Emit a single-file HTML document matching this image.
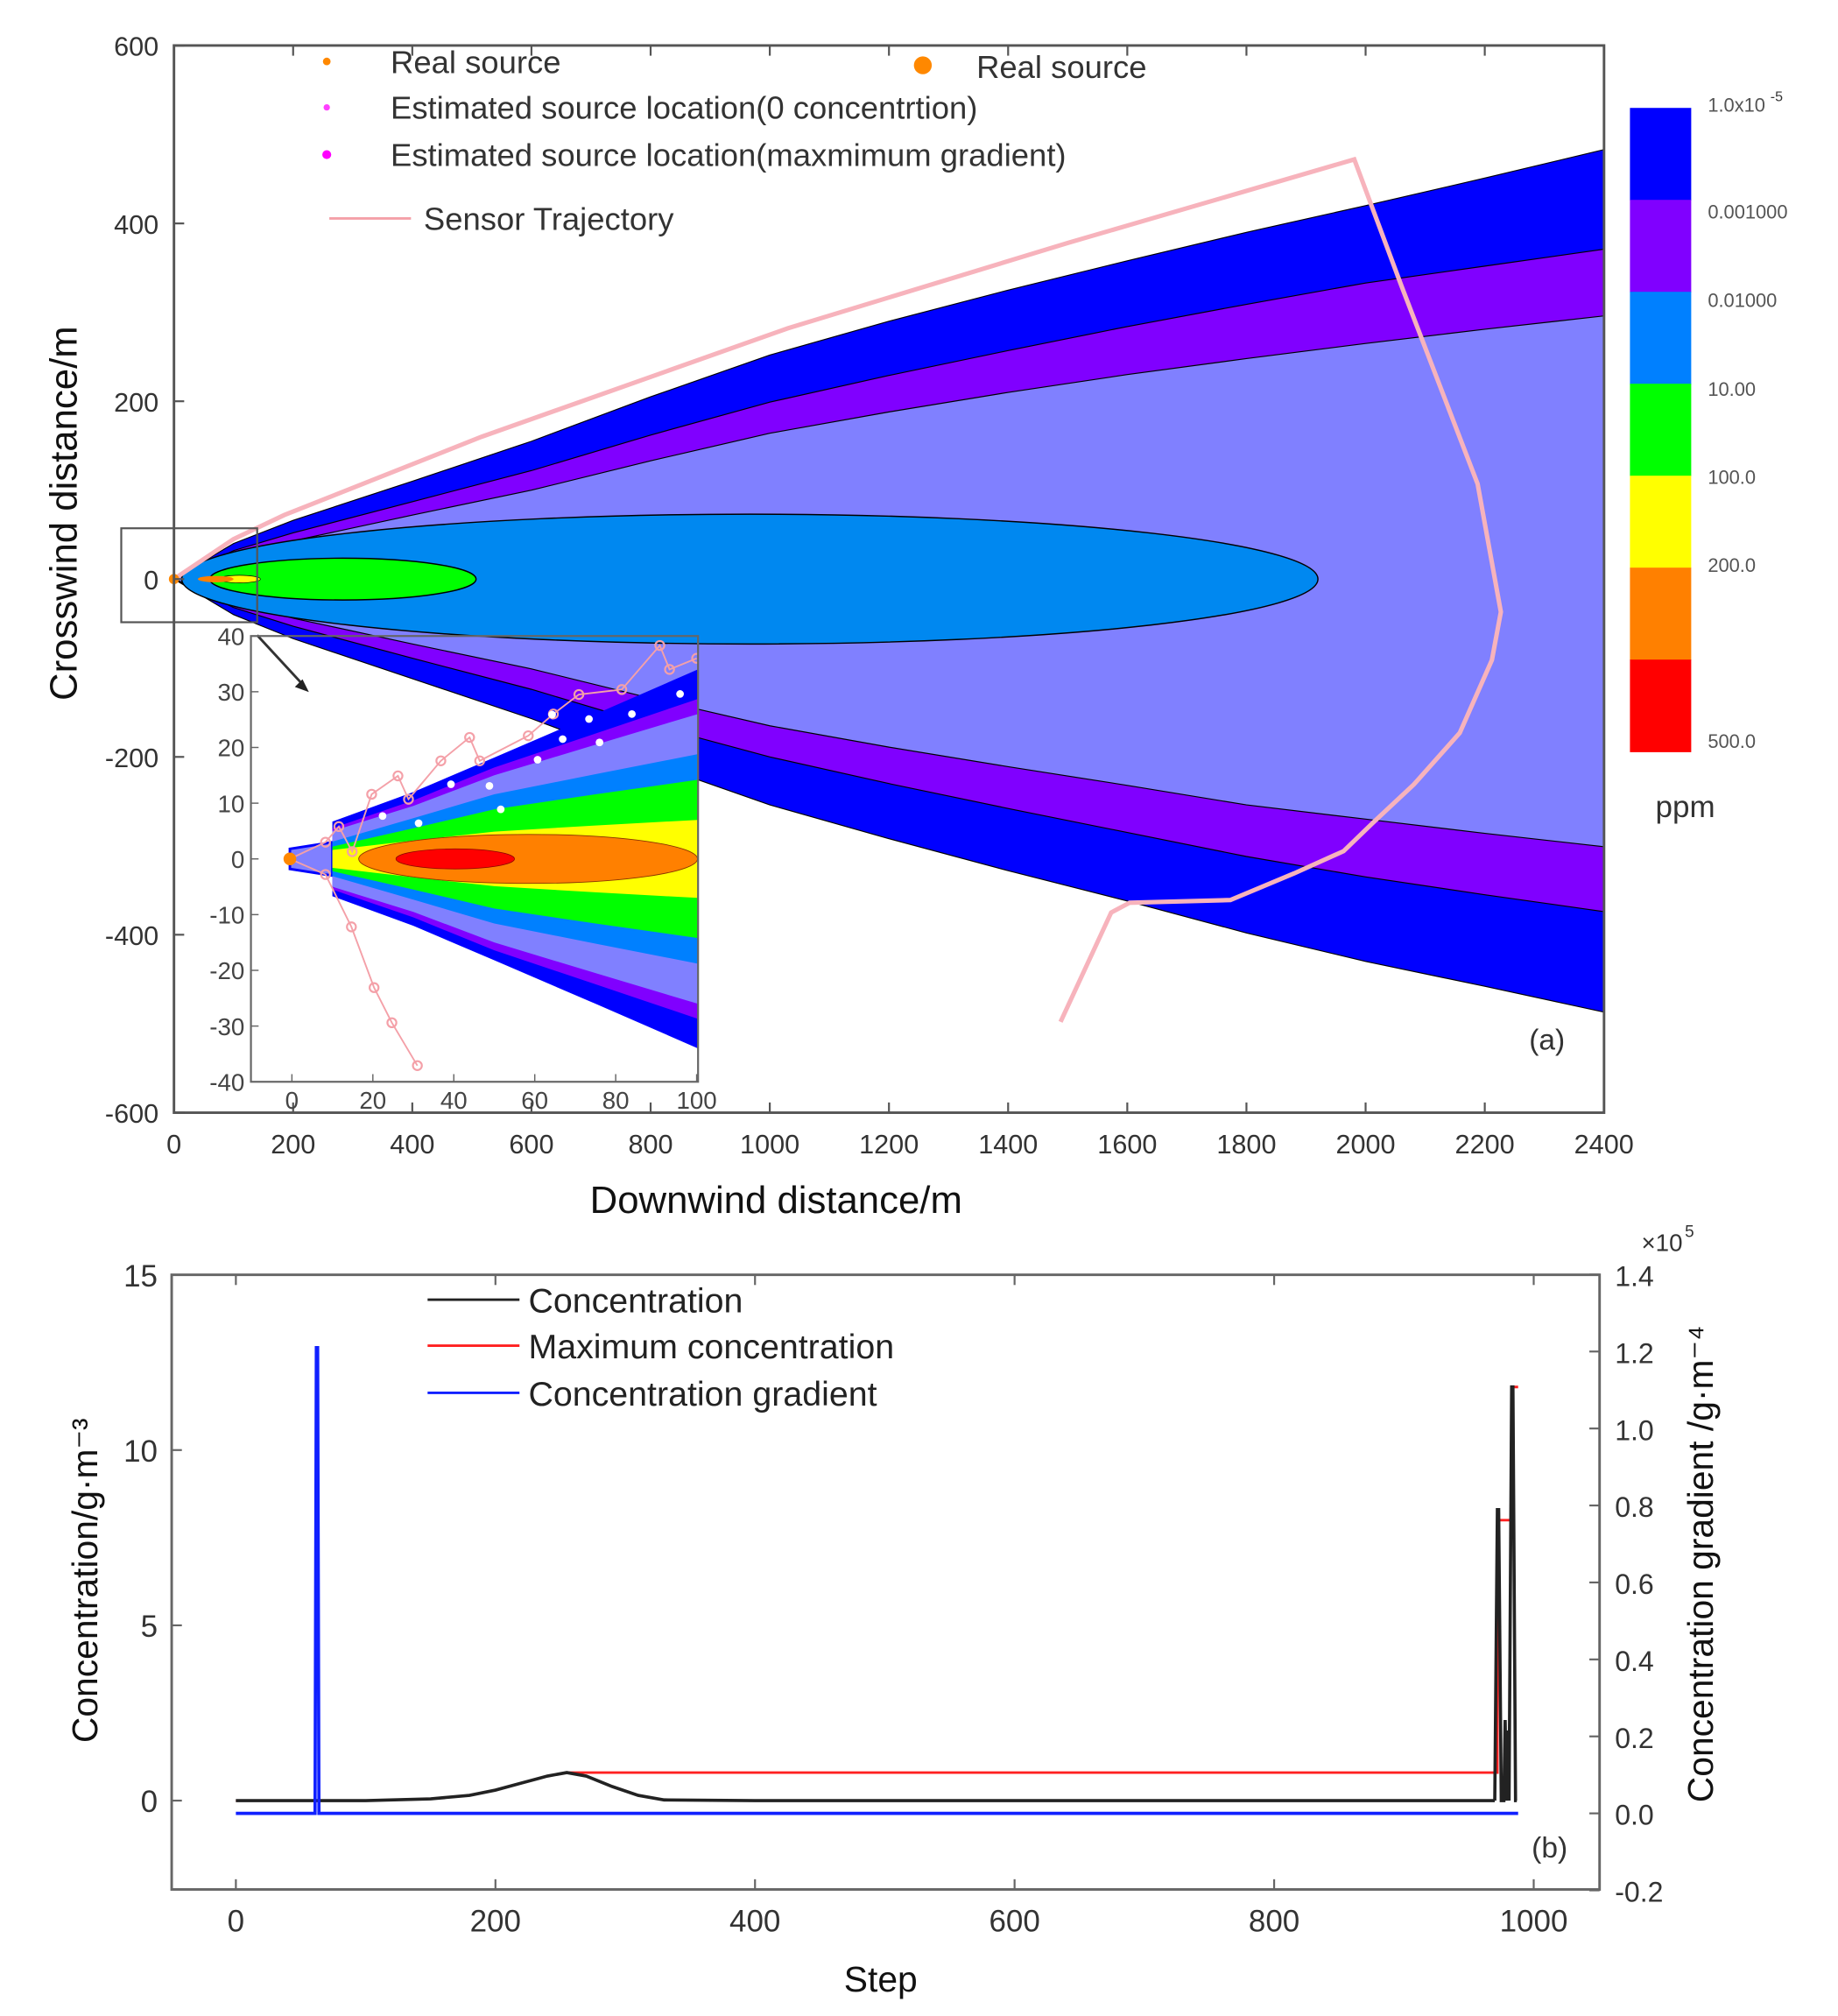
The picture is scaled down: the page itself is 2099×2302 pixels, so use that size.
<!DOCTYPE html>
<html><head><meta charset="utf-8"><style>
html,body{margin:0;padding:0;background:#fff}
svg{display:block;font-family:"Liberation Sans",sans-serif}
</style></head><body>
<svg id="fig" width="2099" height="2302" viewBox="0 0 1440 1579" xmlns="http://www.w3.org/2000/svg">
<rect width="1440" height="1579" fill="#fff"/>
<g id="topChart"></g>
<g id="botChart"></g>
</svg>
<script>
// ---------- data: plume chart ----------
const plumeX = [0, 100, 200, 400, 600, 800, 1000, 1200, 1400, 1600, 1800, 2000, 2200, 2400];
const blueTop = [0, 40, 66, 110, 155, 205, 252, 290, 325, 358, 390, 420, 451, 483];
const purpleTop = [0, 32, 52, 87, 122, 162, 199, 229, 257, 284, 309, 333, 352, 371];
const lavTop = [0, 26, 43, 72, 100, 133, 164, 188, 210, 230, 248, 265, 281, 296];
const blueBot = [0, -40, -67, -112, -157, -207, -254, -292, -328, -362, -398, -430, -458, -487];
const purpleBot = [0, -32, -53, -89, -124, -164, -200, -230, -258, -285, -312, -335, -355, -374];
const lavBot = [0, -26, -44, -73, -101, -134, -165, -189, -211, -232, -254, -270, -286, -301];
const trajX = [0, 100, 185, 516, 1030, 1500, 1981, 2060, 2188, 2227, 2212, 2158, 2081, 2014, 1963, 1880, 1773, 1604, 1573, 1488];
const trajY = [0, 45, 72, 160, 282, 378, 472, 330, 107, -37, -91, -173, -231, -273, -306, -331, -361, -364, -375, -498];
const xTicks = [0,200,400,600,800,1000,1200,1400,1600,1800,2000,2200,2400];
const yTicks = [600,400,200,0,-200,-400,-600];
const cbColors = ["#0000ff","#8000ff","#0080ff","#00ff00","#ffff00","#ff8000","#ff0000"];
const cbLabels = ["1.0x10","0.001000","0.01000","10.00","100.0","200.0","500.0"];
const cbLabelY = [82.5,166,235.3,305,374,442.8,580.7];
const insetX = [10, 30, 50, 75, 100.3];
const insBlue = [6.7, 12, 18.2, 26, 34];
const insPurple = [5.5, 10.5, 16.4, 22.5, 28.7];
const insLav = [5, 9.5, 15, 20.5, 26];
const insLb = [3.1, 7.3, 11.6, 15.2, 18.8];
const insGreen = [2.2, 5.5, 8.9, 11.6, 14.2];
const insYellow = [1.6, 3.3, 4.9, 6, 7];
const stubX = [-0.5, 10];
const stubHalf = [1.8, 3];
const insTrajX = [-0.5, 8.3, 11.6, 14.9, 19.7, 26.2, 28.8, 36.8, 43.9, 46.4, 58.4, 64.6, 70.9, 81.5, 90.9, 93.3, 100];
const insTrajY = [0, 3, 5.8, 1.3, 11.6, 14.9, 10.7, 17.6, 21.8, 17.6, 22.1, 26, 29.5, 30.4, 38.3, 34, 36];
const insDotX = [22.4, 31.3, 39.3, 48.8, 51.6, 60.7, 64.3, 66.9, 73.4, 76, 84, 95.9];
const insDotY = [7.7, 6.4, 13.4, 13.1, 8.9, 17.8, 25.9, 21.5, 25.1, 20.9, 26, 29.6];
const insTraj2X = [-0.5, 8.3, 14.7, 20.3, 24.7, 31];
const insTraj2Y = [0, -2.8, -12.2, -23.1, -29.4, -37.1];
const insTicksX = [0,20,40,60,80,100];
const insTicksY = [40,30,20,10,0,-10,-20,-30,-40];
// ---------- data: step chart ----------
const stepsA = [0, 100, 150, 180, 200, 220, 240, 255, 270, 290, 310, 330, 400, 600, 800, 970];
const concA = [0, 0, 0.05, 0.15, 0.3, 0.5, 0.7, 0.8, 0.7, 0.4, 0.15, 0.02, 0, 0, 0, 0];
const stepsSpike = [970, 972, 973, 975, 977, 978, 979, 980, 981, 983, 984, 986, 987];
const concSpike = [0, 8.3, 8.3, 0, 0, 2.3, 0, 2.0, 0, 11.8, 11.8, 0, 0];
const maxSteps = [0, 100, 150, 180, 200, 220, 240, 255, 972, 972, 983, 983, 988];
const maxConc = [0, 0, 0.05, 0.15, 0.3, 0.5, 0.7, 0.8, 0.8, 8.0, 8.0, 11.8, 11.8];
const gradSteps = [0, 61, 62, 63, 64, 988];
const gradVals = [0, 0, 1.21, 1.21, 0, 0];
const bxTicks = [0,200,400,600,800,1000];
const byTicks = [15,10,5,0];
const byRTicks = [1.4,1.2,1.0,0.8,0.6,0.4,0.2,0.0,-0.2];

const NS="http://www.w3.org/2000/svg";
function mk(parent,tag,attrs,text){const e=document.createElementNS(NS,tag);for(const k in attrs)e.setAttribute(k,attrs[k]);if(text!==undefined)e.textContent=text;parent.appendChild(e);return e;}
const gT=document.getElementById('topChart'), gB=document.getElementById('botChart');
const FL=136.3, FR=1256.7, FT=35.5, FB=871.5;
const X=v=>FL+v*0.4668, Y=v=>453.5-v*0.6965;
function band(upper,lower,fill,name){
  let d="M"+plumeX.map((x,i)=>X(x)+","+Y(upper[i])).join(" L");
  d+=" L"+plumeX.slice().reverse().map((x,i)=>X(x)+","+Y(lower[lower.length-1-i])).join(" L")+"Z";
  const p=mk(gT,'path',{d:d,fill:fill,stroke:"#000","stroke-width":0.8});
  
  
}
band(blueTop,blueBot,"#0000ff","band-blue");
band(purpleTop,purpleBot,"#8000ff","band-purple");
band(lavTop,lavBot,"#8080ff","band-lavender");
let e=mk(gT,'ellipse',{cx:(X(13)+X(1920))/2,cy:Y(0),rx:(X(1920)-X(13))/2,ry:Y(-73)-Y(0),fill:"#0088f0",stroke:"#000","stroke-width":1});


e=mk(gT,'ellipse',{cx:(X(60)+X(507))/2,cy:Y(0),rx:(X(507)-X(60))/2,ry:Y(-23.5)-Y(0),fill:"#00ff00",stroke:"#000","stroke-width":1});


e=mk(gT,'ellipse',{cx:X(110),cy:Y(0),rx:X(145)-X(110),ry:3,fill:"#ffff00",stroke:"#000","stroke-width":0.5});


e=mk(gT,'ellipse',{cx:X(70),cy:Y(0),rx:X(100)-X(70),ry:2.5,fill:"#ff8000"});


let tr=mk(gT,'polyline',{points:trajX.map((x,i)=>X(x)+","+Y(trajY[i])).join(" "),fill:"none",stroke:"#f7b3bc","stroke-width":3.5});


mk(gT,'circle',{cx:X(0),cy:Y(0),r:4,fill:"#ff8800"});
let fr=mk(gT,'rect',{x:FL,y:FT,width:FR-FL,height:FB-FT,fill:"none",stroke:"#555","stroke-width":2});


xTicks.forEach(v=>{mk(gT,'line',{x1:X(v),x2:X(v),y1:FB,y2:FB-8,stroke:"#555","stroke-width":1.5});mk(gT,'line',{x1:X(v),x2:X(v),y1:FT,y2:FT+8,stroke:"#555","stroke-width":1.5});
 const t=mk(gT,'text',{x:X(v),y:FB+32,"font-size":21,"text-anchor":"middle",fill:"#333"},v);
 
 });
yTicks.forEach(v=>{mk(gT,'line',{x1:FL,x2:FL+8,y1:Y(v),y2:Y(v),stroke:"#555","stroke-width":1.5});
 const t=mk(gT,'text',{x:FL-12,y:Y(v)+8,"font-size":21,"text-anchor":"end",fill:"#333"},v);
 
 });
let t=mk(gT,'text',{x:608,y:950,"font-size":30,"text-anchor":"middle",fill:"#111"},"Downwind distance/m");


t=mk(gT,'text',{x:60,y:402,"font-size":30,"text-anchor":"middle",fill:"#111",transform:"rotate(-90 60 402)"},"Crosswind distance/m");


mk(gT,'rect',{x:95,y:413.7,width:106.5,height:73.6,fill:"none",stroke:"#555","stroke-width":1.5});
mk(gT,'line',{x1:201.5,x2:238,y1:497.5,y2:537,stroke:"#333","stroke-width":2});
mk(gT,'path',{d:"M242,542 l-11,-4 l6,-6z",fill:"#222"});
const lg=[["Real source",306,57,"#ff8800",3],["Estimated source location(0 concentrtion)",306,93,"#ff40ff",2.5],["Estimated source location(maxmimum gradient)",306,130,"#ff00ff",3.5]];
lg.forEach(l=>{mk(gT,'circle',{cx:256,cy:l[2]-9,r:l[4],fill:l[3]});const tt=mk(gT,'text',{x:l[1],y:l[2],"font-size":25,fill:"#333"},l[0]);
 
 });
mk(gT,'line',{x1:258,x2:322,y1:171,y2:171,stroke:"#f4a0a8","stroke-width":2});
t=mk(gT,'text',{x:332,y:180,"font-size":25,fill:"#333"},"Sensor Trajectory");


mk(gT,'circle',{cx:723,cy:51,r:7,fill:"#ff8800"});
t=mk(gT,'text',{x:765,y:61,"font-size":25,fill:"#333"},"Real source");


const cbTop=84.4, cbH=(588.6-84.4)/7;
cbColors.forEach((c,i)=>{const r=mk(gT,'rect',{x:1277,y:cbTop+i*cbH,width:48,height:cbH+0.5,fill:c});
 
 });
cbLabels.forEach((l,i)=>{const tt=mk(gT,'text',{x:1338,y:cbLabelY[i]+5,"font-size":15,fill:"#555"},l);
 
 });
mk(gT,'text',{x:1387,y:79,"font-size":11,fill:"#333"},"-5");
t=mk(gT,'text',{x:1297,y:640,"font-size":24,fill:"#333"},"ppm");


t=mk(gT,'text',{x:1198,y:822,"font-size":23,fill:"#333"},"(a)");


// inset (transparent background)
const IL=196.6, IR=546.9, IT=498.1, IB=847.3;
const IX=v=>228.7+v*3.171, IY=v=>672.7-v*4.365;
const ins=mk(gT,'g',{});


const cp=mk(mk(ins,'defs',{}),'clipPath',{id:"ic"});
mk(cp,'rect',{x:IL,y:IT,width:IR-IL,height:IB-IT});
const ig=mk(ins,'g',{"clip-path":"url(#ic)"});
let sd="M"+IX(stubX[0])+","+IY(stubHalf[0])+" L"+IX(stubX[1])+","+IY(stubHalf[1])+" L"+IX(stubX[1])+","+IY(-stubHalf[1])+" L"+IX(stubX[0])+","+IY(-stubHalf[0])+"Z";
mk(ig,'path',{d:sd,fill:"#8080ff",stroke:"#0000ff","stroke-width":2});
function iband(arr,fill){let d="M"+insetX.map((x,i)=>IX(x)+","+IY(arr[i])).join(" L");d+=" L"+insetX.slice().reverse().map((x,i)=>IX(x)+","+IY(-arr[arr.length-1-i])).join(" L")+"Z";
 const p=mk(ig,'path',{d:d,fill:fill});
 
 }
iband(insBlue,"#0000ff");iband(insPurple,"#8000ff");iband(insLav,"#8080ff");iband(insLb,"#0080ff");iband(insGreen,"#00ff00");iband(insYellow,"#ffff00");
mk(ig,'ellipse',{cx:(IX(16.5)+IX(100.2))/2,cy:IY(0),rx:(IX(100.2)-IX(16.5))/2,ry:IY(-4.4)-IY(0),fill:"#ff8000",stroke:"#883300","stroke-width":0.6});
mk(ig,'ellipse',{cx:(IX(25.7)+IX(55))/2,cy:IY(0),rx:(IX(55)-IX(25.7))/2,ry:IY(-1.8)-IY(0),fill:"#ff0000",stroke:"#880000","stroke-width":0.5});
mk(ig,'polyline',{points:insTrajX.map((x,i)=>IX(x)+","+IY(insTrajY[i])).join(" "),fill:"none",stroke:"#f4a0a8","stroke-width":1.3});
mk(ig,'polyline',{points:insTraj2X.map((x,i)=>IX(x)+","+IY(insTraj2Y[i])).join(" "),fill:"none",stroke:"#f4a0a8","stroke-width":1.3});
insTrajX.slice(1).forEach((x,i)=>mk(ig,'circle',{cx:IX(x),cy:IY(insTrajY[i+1]),r:3.5,fill:"none",stroke:"#f4a0a8","stroke-width":1.5}));
insTraj2X.slice(1).forEach((x,i)=>mk(ig,'circle',{cx:IX(x),cy:IY(insTraj2Y[i+1]),r:3.5,fill:"none",stroke:"#f4a0a8","stroke-width":1.5}));
insDotX.forEach((x,i)=>mk(ig,'circle',{cx:IX(x),cy:IY(insDotY[i]),r:3,fill:"#fff"}));
mk(ig,'circle',{cx:IX(-0.5),cy:IY(0),r:5,fill:"#ff8800"});
mk(ins,'rect',{x:IL,y:IT,width:IR-IL,height:IB-IT,fill:"none",stroke:"#666","stroke-width":1.5});
insTicksX.forEach(v=>{mk(ins,'line',{x1:IX(v),x2:IX(v),y1:IB,y2:IB-6,stroke:"#666"});mk(ins,'text',{x:IX(v),y:IB+21,"font-size":19,"text-anchor":"middle",fill:"#444"},v);});
insTicksY.forEach(v=>{mk(ins,'line',{x1:IL,x2:IL+6,y1:IY(v),y2:IY(v),stroke:"#666"});mk(ins,'text',{x:IL-5,y:IY(v)+7,"font-size":19,"text-anchor":"end",fill:"#444"},v);});

// ---------- bottom chart ----------
const BL=134.5, BRt=1253.2, BT=998.5, BBm=1480;
const BX=v=>184.8+v*1.0168, BY=v=>1410.4-v*27.46, BR=v=>1420.4-v*301.5;
function pl(xs,ys,f,color,name,w){const p=mk(gB,'polyline',{points:xs.map((x,i)=>BX(x)+","+f(ys[i])).join(" "),fill:"none",stroke:color,"stroke-width":w||2});
 
 }
pl(maxSteps,maxConc,BY,"#ff2020","maximum-concentration-line");
pl(stepsA,concA,BY,"#222","concentration-line",2.5);
pl(stepsSpike,concSpike,BY,"#222","concentration-spikes",2.5);
pl(gradSteps,gradVals,BR,"#1020ff","gradient-line",2.5);
fr=mk(gB,'rect',{x:BL,y:BT,width:BRt-BL,height:BBm-BT,fill:"none",stroke:"#666","stroke-width":2});


bxTicks.forEach(v=>{mk(gB,'line',{x1:BX(v),x2:BX(v),y1:BBm,y2:BBm-8,stroke:"#666","stroke-width":1.5});mk(gB,'line',{x1:BX(v),x2:BX(v),y1:BT,y2:BT+8,stroke:"#666","stroke-width":1.5});
 const tt=mk(gB,'text',{x:BX(v),y:BBm+33,"font-size":24,"text-anchor":"middle",fill:"#333"},v);
 
 });
byTicks.forEach(v=>{mk(gB,'line',{x1:BL,x2:BL+8,y1:BY(v),y2:BY(v),stroke:"#666","stroke-width":1.5});
 const tt=mk(gB,'text',{x:BL-11,y:BY(v)+9,"font-size":24,"text-anchor":"end",fill:"#333"},v);
 
 });
byRTicks.forEach(v=>{mk(gB,'line',{x1:BRt,x2:BRt-8,y1:BR(v),y2:BR(v),stroke:"#666","stroke-width":1.5});
 const tt=mk(gB,'text',{x:BRt+12,y:BR(v)+9,"font-size":22,fill:"#333"},v.toFixed(1));
 
 });
mk(gB,'text',{x:1286,y:980,"font-size":19,fill:"#333"},"×10");mk(gB,'text',{x:1320,y:969,"font-size":13,fill:"#333"},"5");
t=mk(gB,'text',{x:690,y:1560,"font-size":28,"text-anchor":"middle",fill:"#111"},"Step");


t=mk(gB,'text',{x:76,y:1238,"font-size":28,"text-anchor":"middle",fill:"#111",transform:"rotate(-90 76 1238)"},"Concentration/g·m⁻³");


t=mk(gB,'text',{x:1342,y:1225,"font-size":28,"text-anchor":"middle",fill:"#111",transform:"rotate(-90 1342 1225)"},"Concentration gradient /g·m⁻⁴");


const bl=[["Concentration","#222",1018],["Maximum concentration","#ff2020",1054],["Concentration gradient","#1020ff",1091]];
bl.forEach(l=>{mk(gB,'line',{x1:335,x2:407,y1:l[2],y2:l[2],stroke:l[1],"stroke-width":2});const tt=mk(gB,'text',{x:414,y:l[2]+10,"font-size":27,fill:"#222"},l[0]);
 
 });
t=mk(gB,'text',{x:1200,y:1455,"font-size":23,fill:"#333"},"(b)");


</script>
</body></html>
